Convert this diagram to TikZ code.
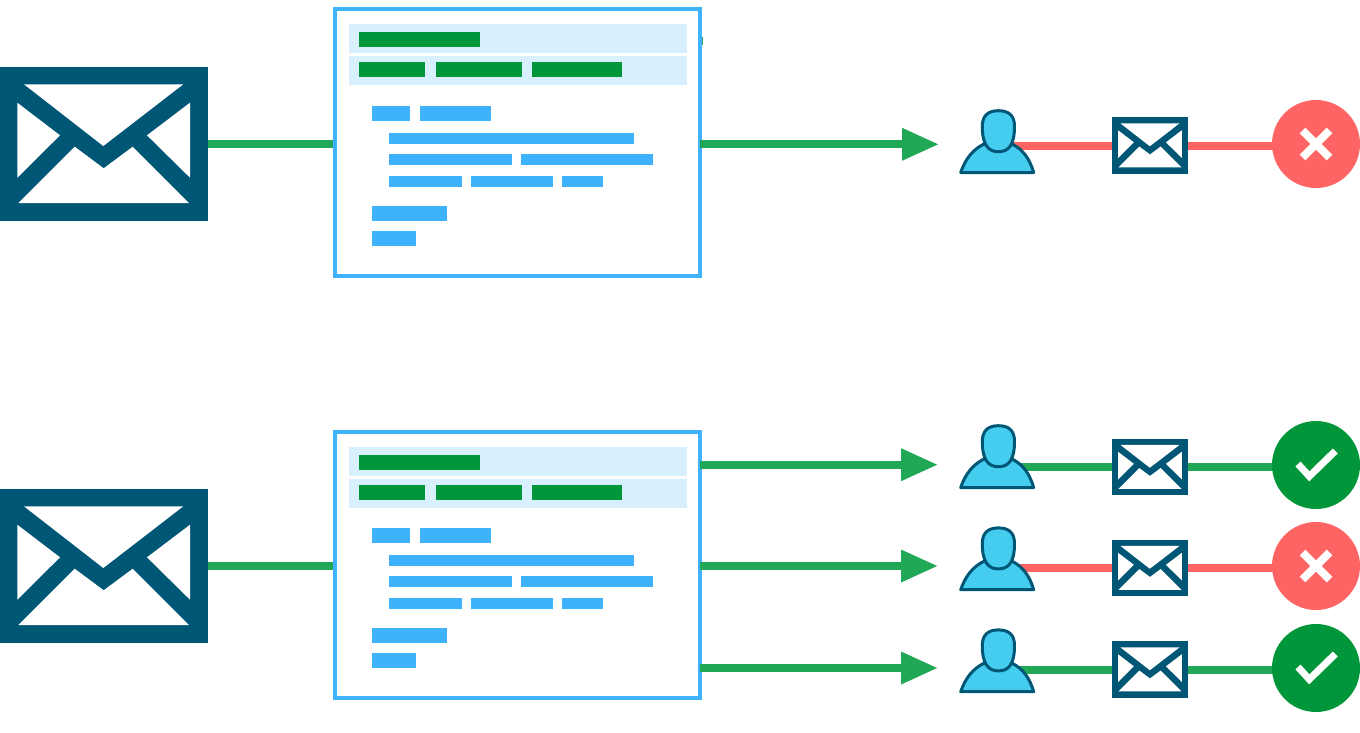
\documentclass[tikz,border=0pt]{standalone}
\usepackage{tikz}
\usetikzlibrary{arrows.meta}
\usetikzlibrary{backgrounds}

\definecolor{maildark}{HTML}{005675}
\definecolor{flowgreen}{HTML}{21A857}
\definecolor{okgreen}{HTML}{009639}
\definecolor{badred}{HTML}{FF6464}
\definecolor{barblue}{HTML}{3EB3FB}
\definecolor{headblue}{HTML}{D8EFFE}
\definecolor{personblue}{HTML}{45CDEF}

\tikzset{
  mailbox/.style={rectangle,fill=maildark,inner sep=0pt,outer sep=0pt},
  panelbox/.style={rectangle,draw=barblue,line width=4pt,fill=white,inner sep=0pt,outer sep=0pt,
    minimum width=364.5pt},
  personbox/.style={rectangle,inner sep=0pt,outer sep=0pt,minimum width=76pt,minimum height=64pt},
  flow/.style={draw=flowgreen,line width=8pt},
  flowarrow/.style={flow,-{Triangle[length=37pt,width=30.5pt]}},
  okline/.style={draw=flowgreen,line width=8pt},
  badline/.style={draw=badred,line width=8pt},
  statusok/.style={circle,fill=okgreen,inner sep=0pt,outer sep=0pt,minimum size=88pt,
    path picture={\draw[white,line width=7pt,shift={(path picture bounding box.center)}]
      (-18,-1) -- (-6.7,11.3) -- (19.3,-14);}},
  statusbad/.style={circle,fill=badred,inner sep=0pt,outer sep=0pt,minimum size=88pt,
    path picture={\draw[white,line width=8pt,shift={(path picture bounding box.center)}]
      (-13.5,-13.5) -- (13.5,13.5) (-13.5,13.5) -- (13.5,-13.5);}},
}

% name, x, y, scale
\newcommand{\mailicon}[4]{
  \node[mailbox,minimum width=#4*207.5pt,minimum height=#4*154pt] (#1) at (#2,#3) {};
  \begin{scope}[shift={(#2,#3)},scale=#4]
    \fill[white] (-79.75,-59.7) -- (79.55,-59.7) -- (-0.45,2) -- cycle;
    \fill[white] (-86.45,-41.3) -- (-43.75,-8.7) -- (-86.45,33.7) -- cycle;
    \fill[white] (86.25,-41.3) -- (43.25,-8.7) -- (86.25,33.7) -- cycle;
    \fill[white] (-85.45,59) -- (-29.05,2.7) -- (-0.05,24.3) -- (28.95,2.7) -- (85.25,59) -- cycle;
  \end{scope}
}

% name, x, y
\newcommand{\personicon}[3]{
  \node[personbox] (#1) at (#2,#3) {};
  \begin{scope}[shift={(#2,#3)}]
    \filldraw[fill=personblue,draw=maildark,line width=3pt,line join=round]
      (-36.8,31.2) .. controls (-32,17) and (-24,8) .. (-14,3) -- (15,3)
      .. controls (25,8) and (32,17) .. (36.2,31.2) -- cycle;
    \filldraw[fill=personblue,draw=maildark,line width=3pt]
      (0.9,-30.6) .. controls (11,-30.6) and (17,-26) .. (17,-15)
      .. controls (17,4) and (11,10.4) .. (0.9,10.4)
      .. controls (-9,10.4) and (-15.2,4) .. (-15.2,-15)
      .. controls (-15.2,-26) and (-9,-30.6) .. (0.9,-30.6) -- cycle;
  \end{scope}
}

% name, y offset, header offset, frame height
\newcommand{\docpanel}[4]{
  \node[panelbox,minimum height=#4*1pt] (#1) at (517.25,9+#3+#4/2) {};
  \begin{scope}[shift={(0,#3)}]
    \fill[headblue] (349,24) rectangle (686.7,53);
    \fill[headblue] (349,56) rectangle (686.7,85);
    \foreach \xa/\xb/\ya/\yb in {359/480/32/47,359/425/62/77,436/522/62/77,532/622/62/77}
      \fill[okgreen] (\xa,\ya) rectangle (\xb,\yb);
  \end{scope}
  \begin{scope}[shift={(0,#2)}]
    \foreach \xa/\xb/\ya/\yb in {372/410/106/121,420/491/106/121,389/633.5/133/144,
        389/512/154/165,521/653/154/165,389/462/176/187,471/553/176/187,562/603/176/187,
        372/447/206/221,372/416/231/246}
      \fill[barblue] (\xa,\ya) rectangle (\xb,\yb);
  \end{scope}
}

\begin{document}
\begin{tikzpicture}[x=1pt,y=-1pt]
\useasboundingbox (0,0) rectangle (1360,732);

\mailicon{mailTop}{103.75}{144}{1}
\mailicon{mailBottom}{103.75}{566}{1}
\docpanel{panelTop}{0}{0}{267}
\docpanel{panelBottom}{422}{423}{266}

\coordinate (stubTop) at (703,41);
\coordinate (tipTop) at (939,144.3);
\coordinate (tipOne) at (938,464.7);
\coordinate (tipTwo) at (938,566);
\coordinate (tipThree) at (938,668);

\personicon{personTop}{997.5}{141.3}
\personicon{personOne}{997.5}{456.3}
\personicon{personTwo}{997.5}{558.5}
\personicon{personThree}{997.5}{660.5}

\mailicon{smallTop}{1150}{145.5}{0.369}
\mailicon{smallOne}{1150}{467}{0.369}
\mailicon{smallTwo}{1150}{568}{0.369}
\mailicon{smallThree}{1150}{669.5}{0.369}

\node[statusbad] (statusTop) at (1316,144) {};
\node[statusok] (statusOne) at (1316,465) {};
\node[statusbad] (statusTwo) at (1316,566) {};
\node[statusok] (statusThree) at (1316,668) {};

\draw[flowarrow] (panelTop.east |- tipTop) -- (tipTop);
\draw[flowarrow] (panelBottom.east |- tipOne) -- (tipOne);
\draw[flowarrow] (panelBottom.east |- tipTwo) -- (tipTwo);
\draw[flowarrow] (panelBottom.east |- tipThree) -- (tipThree);

\begin{pgfonlayer}{background}
\draw[flow] (mailTop.east) -- (mailTop.east -| panelTop.west);
\draw[flow] (mailBottom.east) -- (mailBottom.east -| panelBottom.west);
\draw[flow] (panelTop.east |- stubTop) -- (stubTop);

\draw[badline] (smallTop -| personTop) -- (smallTop);
\draw[okline] (smallOne -| personOne) -- (smallOne);
\draw[badline] (smallTwo -| personTwo) -- (smallTwo);
\draw[okline] (smallThree -| personThree) -- (smallThree);

\draw[badline] (smallTop) -- (smallTop -| statusTop);
\draw[okline] (smallOne) -- (smallOne -| statusOne);
\draw[badline] (smallTwo) -- (smallTwo -| statusTwo);
\draw[okline] (smallThree) -- (smallThree -| statusThree);
\end{pgfonlayer}
\end{tikzpicture}
\end{document}
